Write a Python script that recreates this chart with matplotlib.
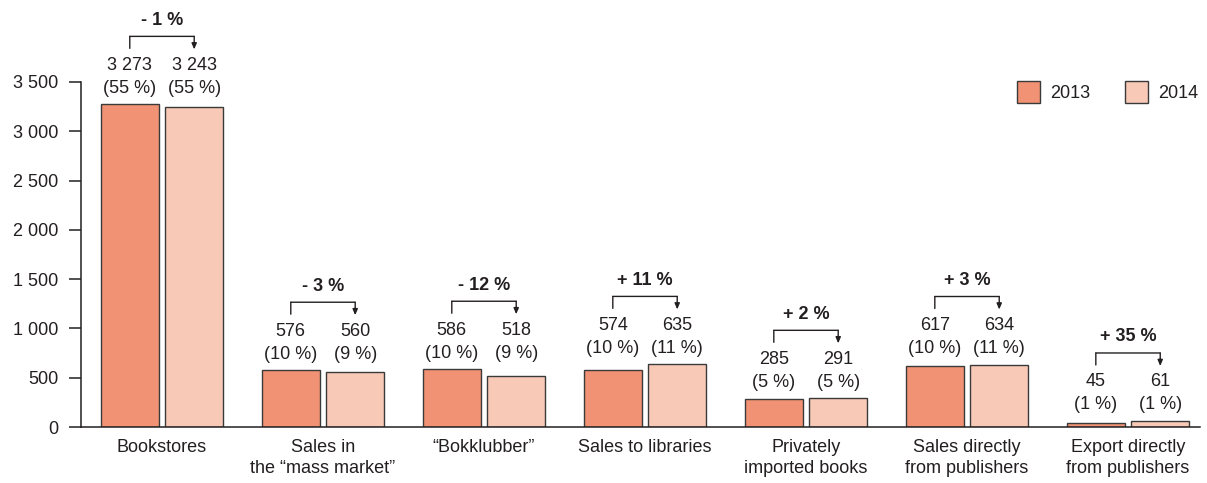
import matplotlib
matplotlib.use("Agg")
import matplotlib.pyplot as plt
import matplotlib.transforms as mtransforms
import numpy as np

categories = ["Bookstores", "Sales in\nthe \u201cmass market\u201d", "\u201cBokklubber\u201d",
              "Sales to libraries", "Privately\nimported books",
              "Sales directly\nfrom publishers", "Export directly\nfrom publishers"]
values_2013 = [3273, 576, 586, 574, 285, 617, 45]
values_2014 = [3243, 560, 518, 635, 291, 634, 61]
share_2013 = [55, 10, 10, 10, 5, 10, 1]
share_2014 = [55, 9, 9, 11, 5, 11, 1]
changes = ["- 1 %", "- 3 %", "- 12 %", "+ 11 %", "+ 2 %", "+ 3 %", "+ 35 %"]
yticks = [0, 500, 1000, 1500, 2000, 2500, 3000, 3500]
ytick_labels = ["0", "500", "1 000", "1 500", "2 000", "2 500", "3 000", "3 500"]

plt.rcParams['font.family'] = ['Liberation Sans', 'DejaVu Sans']
TXT = "#231f20"
C13 = "#f29274"
C14 = "#f8c9b6"
EDGE = "#3a3a3a"
FS = 13

fig = plt.figure(figsize=(12.07, 4.83), dpi=100)
ax = fig.add_axes([81/1207, 1-427/483, (1200-81)/1207, (427-82)/483])

x = np.arange(len(categories))
w = 0.36
off = 0.2
b1 = ax.bar(x - off, values_2013, w, color=C13, edgecolor=EDGE, linewidth=1.0, label="2013")
b2 = ax.bar(x + off, values_2014, w, color=C14, edgecolor=EDGE, linewidth=1.0, label="2014")

ax.set_xlim(-0.503, 6.447)
ax.set_ylim(0, 3500)
ax.set_yticks(yticks)
ax.set_yticklabels(ytick_labels)
ax.set_xticks(x)
ax.set_xticklabels(categories, linespacing=1.25)

for s in ["top", "right"]:
    ax.spines[s].set_visible(False)
for s in ["left", "bottom"]:
    ax.spines[s].set_color(TXT)
    ax.spines[s].set_linewidth(1.1)
ax.tick_params(axis='y', length=8.5, width=1.1, color=TXT, pad=8, labelsize=FS, labelcolor=TXT)
ax.tick_params(axis='x', length=0, pad=9, labelsize=FS, labelcolor=TXT)


def off_tr(dy):
    return mtransforms.offset_copy(ax.transData, fig=fig, x=0, y=dy, units='dots')


for i in range(len(categories)):
    top = max(values_2013[i], values_2014[i])
    xl, xr = x[i] - off, x[i] + off
    for xx, v, s in [(xl, values_2013[i], share_2013[i]), (xr, values_2014[i], share_2014[i])]:
        vs = f"{v:,}".replace(",", " ")
        ax.text(xx, top, vs, transform=off_tr(39), ha='center', va='center',
                fontsize=FS, color=TXT, clip_on=False)
        ax.text(xx, top, f"({s} %)", transform=off_tr(16), ha='center', va='center',
                fontsize=FS, color=TXT, clip_on=False)
    for (xa, dya, xb, dyb) in [(xl, 56, xl, 68), (xl, 68, xr, 68), (xr, 68, xr, 60)]:
        ax.annotate("", xy=(xb, top), xycoords=off_tr(dyb),
                    xytext=(xa, top), textcoords=off_tr(dya),
                    arrowprops=dict(arrowstyle='-', color=TXT, lw=1.0,
                                    shrinkA=0, shrinkB=0), annotation_clip=False)
    ax.annotate("", xy=(xr, top), xycoords=off_tr(55), xytext=(xr, top), textcoords=off_tr(62),
                arrowprops=dict(arrowstyle='-|>,head_length=0.35,head_width=0.15', color=TXT,
                                lw=1.0, shrinkA=0, shrinkB=0), annotation_clip=False)
    ax.text(x[i], top, changes[i], transform=off_tr(84), ha='center', va='center',
            fontsize=FS, fontweight='bold', color=TXT, clip_on=False)

leg = fig.legend(handles=[b1, b2], labels=["2013", "2014"], loc='center left',
                 bbox_to_anchor=(1017/1207, 1-92/483), ncol=2, frameon=False,
                 fontsize=FS, handlelength=1.3, handleheight=1.5, handletextpad=0.55,
                 columnspacing=1.9, borderpad=0, borderaxespad=0)
for t in leg.get_texts():
    t.set_color(TXT)

fig.savefig("out.png", dpi=100)
